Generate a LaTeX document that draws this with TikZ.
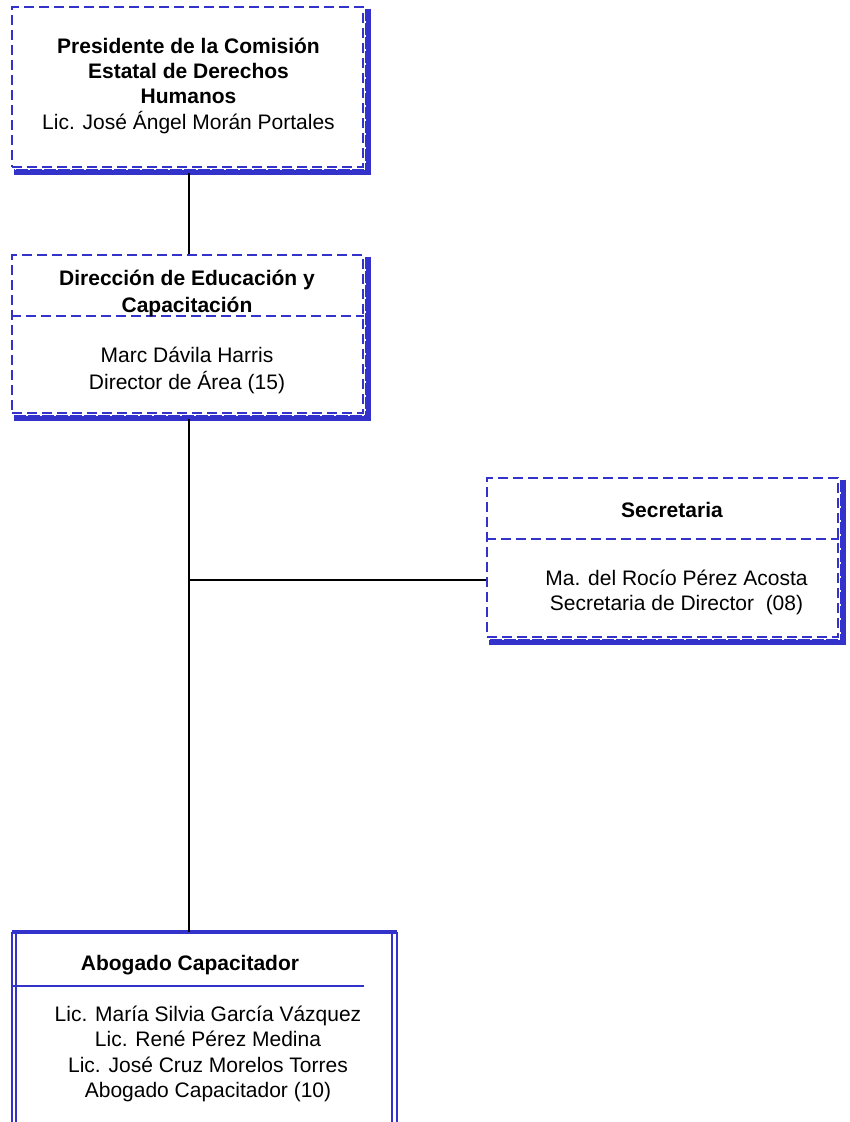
\documentclass[tikz,border=0pt]{standalone}
\usepackage{fontspec}
\setmainfont{Liberation Sans}
\usetikzlibrary{calc}
\definecolor{boxblue}{RGB}{51,51,204}
\begin{document}
\begin{tikzpicture}[x=1pt,y=-1pt,
 dashbox/.style={draw=boxblue,line width=2.8pt,dash pattern=on 10pt off 5pt,rectangle,inner sep=0pt},
 plainbox/.style={rectangle,inner sep=0pt},
 divline/.style={draw=boxblue,line width=2.8pt,dash pattern=on 10pt off 5pt},
 shadowsolid/.style={draw=boxblue,line width=4.5pt},
 shadowdash/.style={draw=boxblue,line width=6pt,dash pattern=on 12pt off 2pt},
 dblline/.style={draw=boxblue,line width=2.2pt},
 conn/.style={draw=black,line width=2.4pt},
 txt/.style={font=\fontsize{21}{25}\selectfont,anchor=base,inner sep=0pt},
 btxt/.style={font=\fontsize{21}{25}\selectfont\bfseries,anchor=base,inner sep=0pt}]
\useasboundingbox (0,0) rectangle (850,1122);

% boxes
\node[dashbox,minimum width=351pt,minimum height=160pt] (pres) at (187.5,87) {};
\node[dashbox,minimum width=351pt,minimum height=158pt] (dir) at (187.5,334) {};
\node[dashbox,minimum width=351pt,minimum height=159pt] (sec) at (662.5,557.5) {};
\node[plainbox,minimum width=385pt,minimum height=200pt] (abo) at (204.5,1032) {};

% shadows
\foreach \b in {pres,dir,sec}{
  \draw[shadowsolid] ($(\b.north east)+(4,3)$) -- ($(\b.south east)+(4,4)$) -- ($(\b.south west)+(3,4)$);
  \draw[shadowdash] ($(\b.north east)+(4,3)$) -- ($(\b.south east)+(4,4)$) -- ($(\b.south west)+(3,4)$);
}

% dividers
\draw[divline] (dir.west |- 0,316) coordinate (d1) -- (dir.east |- 0,316) coordinate (d2);
\draw[divline] (sec.west |- 0,539) coordinate (s1) -- (sec.east |- 0,539) coordinate (s2);

% abogado box (double border, open at bottom)
\draw[draw=boxblue,line width=3.5pt] (abo.north west) -- (abo.north east);
\draw[dblline] (abo.north west) -- ($(abo.north west)+(0,195)$);
\draw[dblline] ($(abo.north west)+(4.5,0)$) -- ($(abo.north west)+(4.5,195)$);
\draw[dblline] (abo.north east) -- ($(abo.north east)+(0,195)$);
\draw[dblline] ($(abo.north east)+(-5,0)$) -- ($(abo.north east)+(-5,195)$);
\draw[draw=boxblue,line width=2.4pt] ($(abo.north west)+(0,54)$) -- ($(abo.north west)+(352,54)$);

% connectors
\draw[conn] ([xshift=1.5pt]pres.south) ++(0,5) -- ([xshift=1.5pt]dir.north);
\draw[conn] ([xshift=1.5pt]dir.south) ++(0,5) -- ([xshift=1.5pt]dir.south |- abo.north);
\coordinate (jn) at ([xshift=1.5pt]dir.south |- 0,580);
\draw[conn] (jn) -- (jn -| sec.west);

% texts
\node[btxt] (p1) at (188.5,53) {Presidente de la Comisión};
\node[btxt] (p2) at (188.5,78) {Estatal de Derechos};
\node[btxt] (p3) at (188.5,103) {Humanos};
\node[txt] (p4) at (188.5,129) {Lic. José Ángel Morán Portales};

\node[btxt] (d3) at (187,285) {Dirección de Educación y};
\node[btxt] (d4) at (187,312) {Capacitación};
\node[txt] (d5) at (187,362) {Marc Dávila Harris};
\node[txt] (d6) at (187,389) {Director de Área (15)};

\node[btxt] (s3) at (672,517) {Secretaria};
\node[txt] (s4) at (676.5,585) {Ma. del Rocío Pérez Acosta};
\node[txt] (s5) at (676.5,610) {Secretaria de Director~ (08)};

\node[btxt] (a1) at (190,970) {Abogado Capacitador};
\node[txt] (a2) at (208,1021) {Lic. María Silvia García Vázquez};
\node[txt] (a3) at (208,1046) {Lic. René Pérez Medina};
\node[txt] (a4) at (208,1072) {Lic. José Cruz Morelos Torres};
\node[txt] (a5) at (208,1097) {Abogado Capacitador (10)};
\end{tikzpicture}
\end{document}
